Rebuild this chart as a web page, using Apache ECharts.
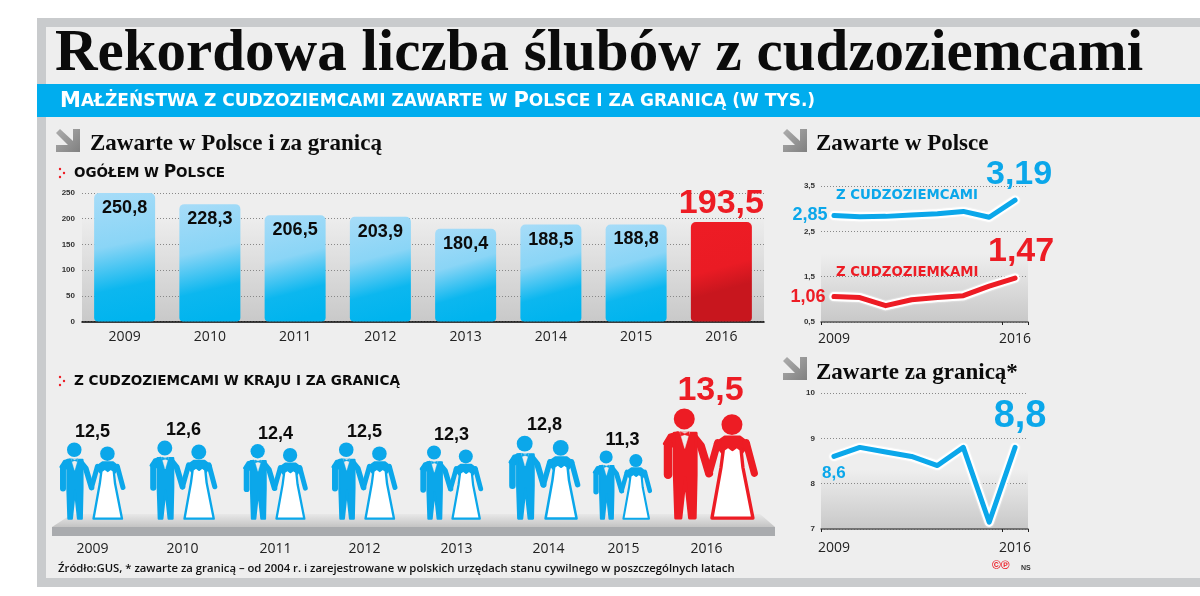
<!DOCTYPE html>
<html><head><meta charset="utf-8">
<style>html,body{margin:0;padding:0;background:#fff}#c{width:1200px;height:596px}</style>
<script src="https://cdn.jsdelivr.net/npm/echarts@6/dist/echarts.min.js"></script>
</head><body><div id="c"></div>
<script>
const years = ['2009','2010','2011','2012','2013','2014','2015','2016'];
const totalInPoland = [250.8,228.3,206.5,203.9,180.4,188.5,188.8,193.5];
const couplesAll = [12.5,12.6,12.4,12.5,12.3,12.8,11.3,13.5];
const withForeignWomen = [2.85,2.82,2.83,2.86,2.89,2.94,2.81,3.19];
const withForeignMen = [1.06,1.04,0.86,0.99,1.04,1.08,1.29,1.47];
const abroad = [8.6,8.8,8.7,8.6,8.4,8.8,7.15,8.8];
const barTicks = [0,50,100,150,200,250];
const polandTicks = [0.5,1.5,2.5,3.5];
const abroadTicks = [7,8,9,10];

const BLUE='#0ba7ea', RED='#ed1c24', INK='#0b0b0b';
const SERIF='"Liberation Serif"', SANS='"Open Sans"', WIDE='"DejaVu Sans"', ARIAL='"Liberation Sans"';
const comma = v => String(v).replace('.',',');
const grad = (y0,y1,c0,c1)=>({type:'linear',x:0,y:0,x2:0,y2:1,colorStops:[{offset:0,color:c0},{offset:1,color:c1}]});

const rect=(x,y,w,h,fill,z=-5)=>({type:'rect',shape:{x,y,width:w,height:h},style:{fill},z,silent:true});
const text=(x,y,t,font,fill,extra={})=>({type:'text',x,y,z:20,silent:true,style:Object.assign({text:t,font,fill,verticalAlign:'middle'},extra)});
const arrow=(x,y)=>({type:'polygon',z:20,silent:true,x,y,shape:{points:[[17,0],[24,0],[24,23],[0,23],[0,16],[12,16],[0,4],[4,0],[17,12]]},style:{fill:{type:'linear',x:0,y:0,x2:1,y2:1,colorStops:[{offset:0,color:'#adadad'},{offset:1,color:'#808080'}]}}});
const bullet=(x,y)=>[[0,0],[4,4],[0,8]].map(p=>({type:'circle',z:20,silent:true,shape:{cx:x+p[0],cy:y+p[1],r:1.2},style:{fill:RED}}));
const smallCaps=(x,y,parts,big,small,fill,family)=>({type:'text',x,y,z:20,silent:true,style:{
  text:parts.map(p=>`{b|${p[0]}}{s|${p[1]}}`).join(''),verticalAlign:'middle',
  rich:{b:{font:`bold ${big}px ${family}`,fill},s:{font:`bold ${small}px ${family}`,fill}}}});

const decor=[
  rect(37,18,1163,569,'#c9cbcd',-10),
  rect(46,27,1154,551,'#eeeeee',-9),
  rect(37,84,1163,33,'#00adee',-8),
  smallCaps(60,102,[['M','AŁŻEŃSTWA Z CUDZOZIEMCAMI ZAWARTE W '],['P','OLSCE I ZA GRANICĄ (W TYS.)']],21,17,'#fff',WIDE),
  arrow(56,129),arrow(783,129),arrow(783,357),
  text(90,144,'Zawarte w Polsce i za granicą',`bold 23px ${SERIF}`,INK),
  text(816,144,'Zawarte w Polsce',`bold 23px ${SERIF}`,INK),
  text(816,373,'Zawarte za granicą*',`bold 23px ${SERIF}`,INK),
  ...bullet(60,169),...bullet(60,377),
  smallCaps(74,173,[['','OGÓŁEM W '],['P','OLSCE']],17,13.5,INK,WIDE),
  text(74,381,'Z CUDZOZIEMCAMI W KRAJU I ZA GRANICĄ',`bold 13.6px ${WIDE}`,INK),
  rect(82,215,682,106,grad(0,1,'#eeeeee','#c9c9c9')),
  rect(821,254,207,68,grad(0,1,'#eeeeee','#c8c8c8')),
  rect(821,470,207,59,grad(0,1,'#eeeeee','#c8c8c8')),
  {type:'polygon',z:-4,silent:true,shape:{points:[[72,514],[760,514],[775,527],[52,527]]},style:{fill:grad(0,1,'#e8e8e8','#c4c4c4')}},
  rect(52,527,723,9,'#a9abae',-4),
  text(836,196,'Z CUDZOZIEMCAMI',`bold 13.3px ${WIDE}`,BLUE),
  text(836,273,'Z CUDZOZIEMKAMI',`bold 13.3px ${WIDE}`,RED),
  text(58,569,'Źródło:GUS, * zawarte za granicą – od 2004 r. i zarejestrowane w polskich urzędach stanu cywilnego w poszczególnych latach',`600 11.3px ${SANS}`,'#111'),
  text(992,566,'©℗',`bold 12px ${ARIAL}`,RED),
  text(1021,568,'NS',`bold 7px ${ARIAL}`,'#333')
];

const figureHeight = v => 69 + 4.8*Math.pow(Math.max(v-11.3,0),2.74);
const figureShift=[0,2,5,5,3,7,-4,-5];
const yearShift=[0,1,5,5,8,11,-3,-9];
function couple(params,api){
  const i=params.dataIndex, v=api.value(1);
  const base=api.coord([api.value(0),0]);
  const h=figureHeight(v), s=h/232, c=i===7?RED:BLUE;
  const X=base[0]+figureShift[i], Y=base[1];
  const p=(a)=>[X+(a[0]-160)*s,Y+(a[1]-480)*s];
  const poly=(pts,fill,stroke,lw)=>({type:'polygon',shape:{points:pts.map(p)},style:{fill,stroke:stroke||fill,lineWidth:(lw||6)*s,lineJoin:'round'}});
  const line=(pts,lw)=>({type:'polyline',shape:{points:pts.map(p)},style:{fill:null,stroke:c,lineWidth:lw*s,lineCap:'round',lineJoin:'round'}});
  const circ=(x,y,r)=>{const q=p([x,y]);return {type:'circle',shape:{cx:q[0],cy:q[1],r:r*s},style:{fill:c}}};
  const lab=p([160,248]);
  return {type:'group',children:[
    circ(105,268,22),
    poly([[92,297],[74,302],[63,320],[80,325]],c),
    line([[71,320],[71,385]],18),
    line([[124,305],[140,325],[157,382]],17),
    poly([[84,298],[130,298],[130,385],[128,476],[116,476],[107,392],[98,476],[87,476],[84,385]],c),
    poly([[96,296],[116,296],[106,330]],'#eeeeee','#eeeeee',1),
    poly([[97,295],[106,299],[115,295],[115,304],[106,301],[97,304]],c,c,1),
    circ(205,280,22),
    poly([[190,306],[222,306],[240,320],[225,340],[186,340],[170,320]],c),
    line([[175,318],[157,382]],15),
    line([[235,318],[252,382]],15),
    poly([[187,332],[197,325],[206,332],[215,325],[224,332],[228,370],[249,476],[163,476],[182,370]],'#ffffff',c,7),
    {type:'text',style:{text:comma(v),x:X,y:lab[1]-2,align:'center',verticalAlign:'bottom',
      font:i===7?`bold 34px ${ARIAL}`:`bold 18px ${ARIAL}`,fill:i===7?RED:INK}}
  ]};
}
const yearRich={};
yearShift.forEach((d,i)=>{yearRich['y'+i]={fontFamily:SANS,fontSize:14,color:'#222',padding:d>0?[0,0,0,2*d]:[0,-2*d,0,0]}});

const lineSeries=(data,color,xi,yi,firstLabel,lastLabel)=>[
  {type:'line',data,xAxisIndex:xi,yAxisIndex:yi,symbol:'none',lineStyle:{color:'#ffffff',width:9,cap:'round',join:'round',shadowColor:'#ffffff',shadowBlur:2},silent:true,z:3},
  {type:'line',symbol:'circle',symbolSize:1,itemStyle:{color},
    data:data.map((v,i)=>i===0?{value:v,label:Object.assign({show:true,color,formatter:p=>comma(p.value)},firstLabel)}:
      i===data.length-1?{value:v,label:Object.assign({show:true,color,formatter:p=>comma(p.value)},lastLabel)}:v),
    xAxisIndex:xi,yAxisIndex:yi,lineStyle:{color,width:5,cap:'round',join:'round'},z:4}
];
const lineX=(gridIndex,margin)=>({type:'category',gridIndex,data:years,axisLine:{lineStyle:{color:'#555',width:1.5}},
  axisTick:{show:true,length:3,lineStyle:{color:'#222'},alignWithLabel:false},
  axisLabel:{margin,fontFamily:SANS,fontSize:14,color:'#222',interval:(i)=>i===0||i===7}});
const lineY=(gridIndex,min,max,ticks,fmt)=>({type:'value',gridIndex,min,max,
  axisLine:{show:false},axisTick:{show:false,customValues:ticks},
  axisLabel:{customValues:ticks,margin:6,fontFamily:ARIAL,fontWeight:'bold',fontSize:8,color:'#333',formatter:fmt},
  splitLine:{show:true,lineStyle:{color:'#888',type:[1,2],width:1}}});

const option={
  animation:false,
  backgroundColor:'#ffffff',
  title:{text:'Rekordowa liczba ślubów z cudzoziemcami',left:50,top:20,
    textStyle:{fontFamily:SERIF,fontWeight:'bold',fontSize:59,color:INK}},
  graphic:{elements:decor},
  grid:[
    {left:82,right:1200-764,top:193,height:128.5},
    {left:48,right:1200-760,top:400,height:120},
    {left:821,right:1200-1028,top:186,height:136},
    {left:821,right:1200-1028,top:393,height:136}
  ],
  xAxis:[
    {type:'category',gridIndex:0,data:years,axisLine:{lineStyle:{color:'#000',width:1.5}},axisTick:{show:false},
      axisLabel:{margin:9,fontFamily:SANS,fontSize:14,color:'#222'}},
    {type:'category',gridIndex:1,data:years,axisLine:{show:false},axisTick:{show:false},
      axisLabel:{margin:22,formatter:(v,i)=>`{y${i}|${v}}`,rich:yearRich}},
    lineX(2,10),lineX(3,12)
  ],
  yAxis:[
    {type:'value',gridIndex:0,min:0,max:250,interval:50,axisLine:{show:false},axisTick:{show:false},
      axisLabel:{margin:7,fontFamily:ARIAL,fontWeight:'bold',fontSize:8,color:'#333',customValues:barTicks},
      splitLine:{show:true,lineStyle:{color:'#888',type:[1,2]}}},
    {type:'value',gridIndex:1,min:0,max:20,show:false},
    lineY(2,0.5,3.5,polandTicks,comma),
    lineY(3,7,10,abroadTicks,comma)
  ],
  series:[
    {type:'bar',xAxisIndex:0,yAxisIndex:0,barWidth:61,z:3,
      data:totalInPoland.map((v,i)=>{
        const last=i===7;
        return {value:v,itemStyle:{borderRadius:[5,5,4,4],color:{type:'linear',x:0,y:0,x2:0.45,y2:1,colorStops:last?
          [{offset:0,color:'#ee1c25'},{offset:.5,color:'#ea1b24'},{offset:.72,color:'#c8161e'},{offset:1,color:'#c8161e'}]:
          [{offset:0,color:'#a7dcf8'},{offset:.42,color:'#8ad5f6'},{offset:.75,color:'#0cb7ef'},{offset:1,color:'#00b4ee'}]}},
          label:last?{show:true,position:'top',distance:1,fontFamily:ARIAL,fontWeight:'bold',fontSize:34,color:RED,formatter:p=>comma(p.value)}:
            {show:true,position:'insideTop',distance:6,fontFamily:ARIAL,fontWeight:'bold',fontSize:18,color:INK,formatter:p=>comma(p.value)}};
      })},
    {type:'custom',xAxisIndex:1,yAxisIndex:1,renderItem:couple,clip:false,z:4,
      data:couplesAll.map((v,i)=>[i,v]),encode:{x:0,y:1}},
    ...lineSeries(withForeignWomen,BLUE,2,2,
      {position:'left',distance:6,fontFamily:ARIAL,fontWeight:'bold',fontSize:18},
      {position:'top',distance:8,offset:[4,0],fontFamily:ARIAL,fontWeight:'bold',fontSize:34}),
    ...lineSeries(withForeignMen,RED,2,2,
      {position:'left',distance:8,fontFamily:ARIAL,fontWeight:'bold',fontSize:18},
      {position:'top',distance:9,offset:[6,0],fontFamily:ARIAL,fontWeight:'bold',fontSize:34}),
    ...lineSeries(abroad,BLUE,3,3,
      {position:'bottom',distance:8,fontFamily:ARIAL,fontWeight:'bold',fontSize:17},
      {position:'top',distance:11,offset:[5,0],fontFamily:ARIAL,fontWeight:'bold',fontSize:38})
  ]
};
const chart=echarts.init(document.getElementById('c'),null,{renderer:'canvas'});
chart.setOption(option);
</script></body></html>
